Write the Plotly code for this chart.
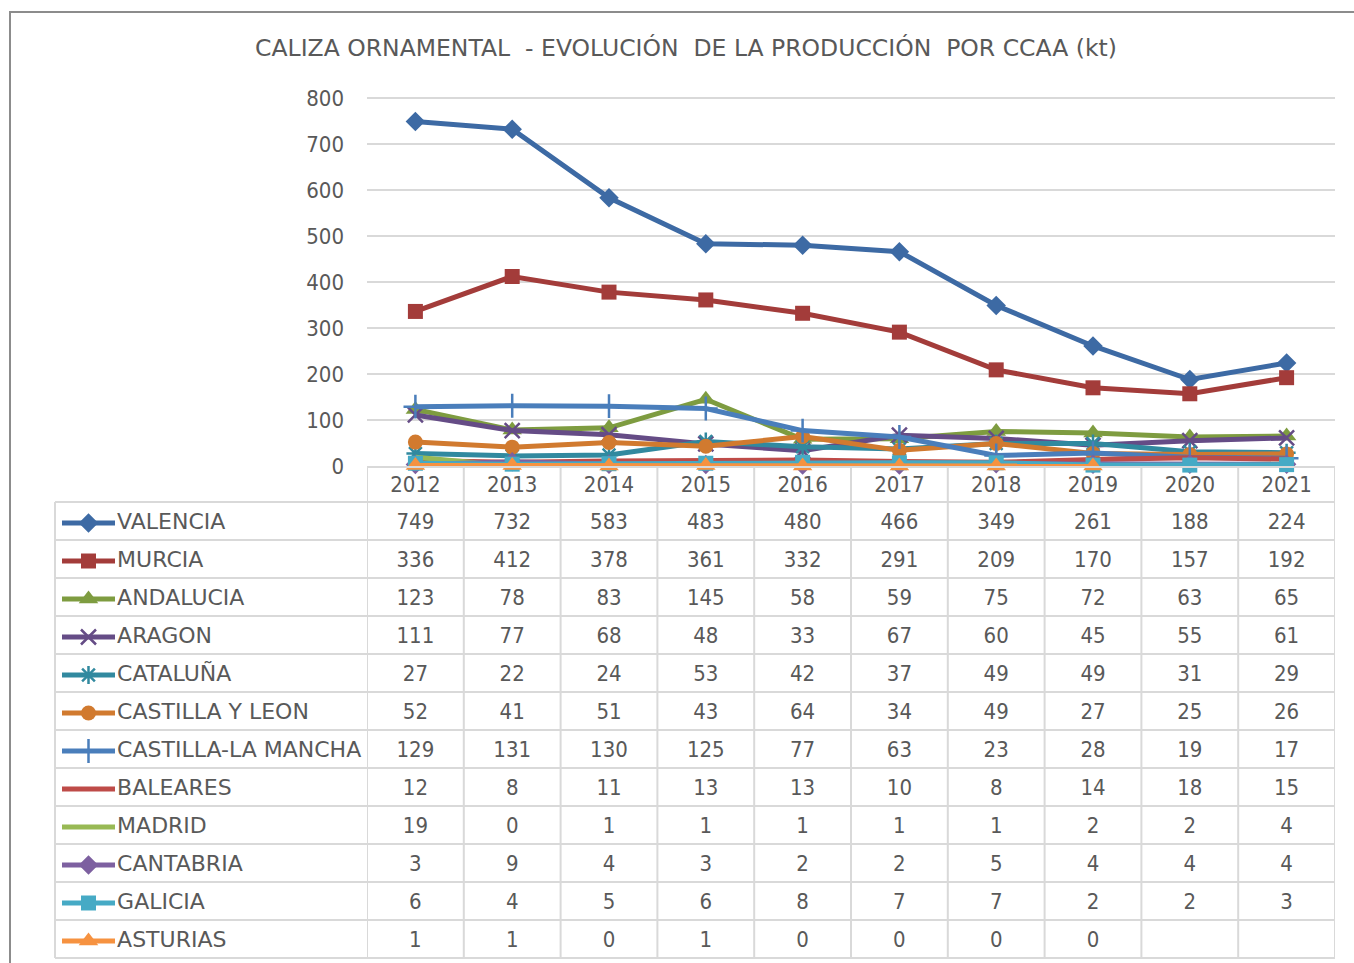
import plotly.graph_objects as go

years = ["2012", "2013", "2014", "2015", "2016", "2017", "2018", "2019", "2020", "2021"]
regions = ["VALENCIA", "MURCIA", "ANDALUCIA", "ARAGON", "CATALUÑA", "CASTILLA Y LEON",
           "CASTILLA-LA MANCHA", "BALEARES", "MADRID", "CANTABRIA", "GALICIA", "ASTURIAS"]
valencia = [749, 732, 583, 483, 480, 466, 349, 261, 188, 224]
murcia = [336, 412, 378, 361, 332, 291, 209, 170, 157, 192]
andalucia = [123, 78, 83, 145, 58, 59, 75, 72, 63, 65]
aragon = [111, 77, 68, 48, 33, 67, 60, 45, 55, 61]
cataluna = [27, 22, 24, 53, 42, 37, 49, 49, 31, 29]
castilla_leon = [52, 41, 51, 43, 64, 34, 49, 27, 25, 26]
castilla_mancha = [129, 131, 130, 125, 77, 63, 23, 28, 19, 17]
baleares = [12, 8, 11, 13, 13, 10, 8, 14, 18, 15]
madrid = [19, 0, 1, 1, 1, 1, 1, 2, 2, 4]
cantabria = [3, 9, 4, 3, 2, 2, 5, 4, 4, 4]
galicia = [6, 4, 5, 6, 8, 7, 7, 2, 2, 3]
asturias = [1, 1, 0, 1, 0, 0, 0, 0, None, None]
y_ticks = [0, 100, 200, 300, 400, 500, 600, 700, 800]
title_text = "CALIZA ORNAMENTAL\u00a0 - EVOLUCIÓN\u00a0 DE LA PRODUCCIÓN\u00a0 POR CCAA (kt)"

series = [valencia, murcia, andalucia, aragon, cataluna, castilla_leon,
          castilla_mancha, baleares, madrid, cantabria, galicia, asturias]
colors = ["#3D6AA4", "#A33C3A", "#7E9C40", "#654C86", "#31899F", "#D17A2F",
          "#4A7EBB", "#BE4B48", "#98B954", "#7D60A0", "#46AAC5", "#F69240"]
symbols = ["diamond", "square", "triangle-up", "x-thin-open", "asterisk-open", "circle",
           "cross-thin-open", "line-ew-open", "line-ew-open", "diamond", "square", "triangle-up"]
sizes = [15, 15, 17, 15, 15, 15, 17, 10, 10, 15, 15, 17]

W, H = 1354, 963
NUMFONT = "DejaVu Sans Condensed, DejaVu Sans, sans-serif"
LBLFONT = "DejaVu Sans, sans-serif"
TXT = "#595959"
GRID = "#D9D9D9"

def px(x):
    return x / W

def py(y):
    return 1 - y / H

fig = go.Figure()

# main line chart
for name, vals, c, s, sz in zip(regions, series, colors, symbols, sizes):
    mk = dict(symbol=s, size=sz, color=c, opacity=1,
              line=dict(color=c, width=2.5 if "open" in s else 0))
    fig.add_trace(go.Scatter(x=years, y=vals, name=name, mode="lines+markers",
                             line=dict(color=c, width=5), marker=mk,
                             xaxis="x", yaxis="y", cliponaxis=False, showlegend=False,
                             connectgaps=False))

# data table values
tx, ty, tt = [], [], []
for i, vals in enumerate(series):
    for yr, v in zip(years, vals):
        if v is not None:
            tx.append(yr)
            ty.append(i)
            tt.append(str(v))
fig.add_trace(go.Scatter(x=tx, y=ty, text=tt, mode="text", xaxis="x2", yaxis="y2",
                         textfont=dict(family=NUMFONT, size=22, color=TXT),
                         textposition="middle center", showlegend=False, hoverinfo="skip",
                         cliponaxis=False))

# legend keys and labels in the table's first column
for i, (name, c, s, sz) in enumerate(zip(regions, colors, symbols, sizes)):
    mk = dict(symbol=s, size=[0, sz, 0], color=c, opacity=1,
              line=dict(color=c, width=2.5 if "open" in s else 0))
    fig.add_trace(go.Scatter(x=[0, 0.5, 1], y=[i, i, i], mode="lines+markers",
                             line=dict(color=c, width=5), marker=mk,
                             xaxis="x3", yaxis="y3", cliponaxis=False,
                             showlegend=False, hoverinfo="skip"))
fig.add_trace(go.Scatter(x=[1.04] * len(regions), y=list(range(len(regions))), text=regions,
                         mode="text", textposition="middle right", xaxis="x3", yaxis="y3",
                         textfont=dict(family=LBLFONT, size=22, color=TXT), cliponaxis=False,
                         showlegend=False, hoverinfo="skip"))

x_dom = [px(367), px(1335)]
rows_dom = [py(960), py(504)]
n = len(regions)

shapes = []
# outer chart border
shapes.append(dict(type="rect", xref="paper", yref="paper", x0=px(10), x1=px(1400),
                   y0=py(1000), y1=py(12), line=dict(color="#8C8C8C", width=2)))
# horizontal value gridlines
for t in y_ticks[1:]:
    shapes.append(dict(type="line", xref="paper", yref="y", x0=x_dom[0], x1=x_dom[1],
                       y0=t, y1=t, layer="below", line=dict(color=GRID, width=2)))
# vertical table borders
for k in range(len(years) + 1):
    shapes.append(dict(type="line", xref="x", yref="paper", x0=k - 0.5, x1=k - 0.5,
                       y0=py(958), y1=py(466), line=dict(color=GRID, width=2)))
shapes.append(dict(type="line", xref="paper", yref="paper", x0=px(55), x1=px(55),
                   y0=py(958), y1=py(502), line=dict(color=GRID, width=2)))
# horizontal table borders
for r in range(n + 1):
    shapes.append(dict(type="line", xref="paper", yref="paper", x0=px(55), x1=x_dom[1],
                       y0=py(502 + 38 * r), y1=py(502 + 38 * r),
                       line=dict(color=GRID, width=2)))

fig.update_layout(
    width=W, height=H, autosize=False,
    margin=dict(l=0, r=0, t=0, b=0, pad=0, autoexpand=False),
    showlegend=False,
    paper_bgcolor="white", plot_bgcolor="rgba(0,0,0,0)",
    font=dict(family=NUMFONT, size=22, color=TXT),
    title=dict(text=title_text, x=px(686), xanchor="center", y=py(48), yanchor="middle",
               yref="container", automargin=False,
               font=dict(family=LBLFONT, size=23.5, color=TXT)),
    xaxis=dict(domain=x_dom, type="category", categoryarray=years, range=[-0.5, 9.5],
               showgrid=False, zeroline=False, showline=True, linecolor=GRID, linewidth=2,
               ticks="", tickfont=dict(family=NUMFONT, size=22, color=TXT),
               ticklabelstandoff=-2, anchor="y", fixedrange=True, automargin=False),
    yaxis=dict(domain=[py(466), py(466 - 810 * 0.46)], range=[0, 810], tickvals=y_ticks,
               showgrid=False, zeroline=False, showline=False,
               ticks="", ticklabelstandoff=22, tickfont=dict(family=NUMFONT, size=22, color=TXT),
               anchor="x", fixedrange=True, automargin=False),
    xaxis2=dict(domain=x_dom, type="category", categoryarray=years, range=[-0.5, 9.5],
                visible=False, anchor="y2", fixedrange=True, automargin=False),
    yaxis2=dict(domain=rows_dom, range=[n - 0.5, -0.5], visible=False, anchor="x2",
                fixedrange=True, automargin=False),
    xaxis3=dict(domain=[px(62), px(62 + 53 * 1.1)], range=[0, 1.1], visible=False,
                anchor="y3", fixedrange=True, automargin=False),
    yaxis3=dict(domain=rows_dom, range=[n - 0.5, -0.5], visible=False, anchor="x3",
                fixedrange=True, automargin=False),
    shapes=shapes,
)

fig.write_html("out.html", config={"displayModeBar": False},
               post_script="document.body.style.margin='0';document.body.style.overflow='hidden';")
